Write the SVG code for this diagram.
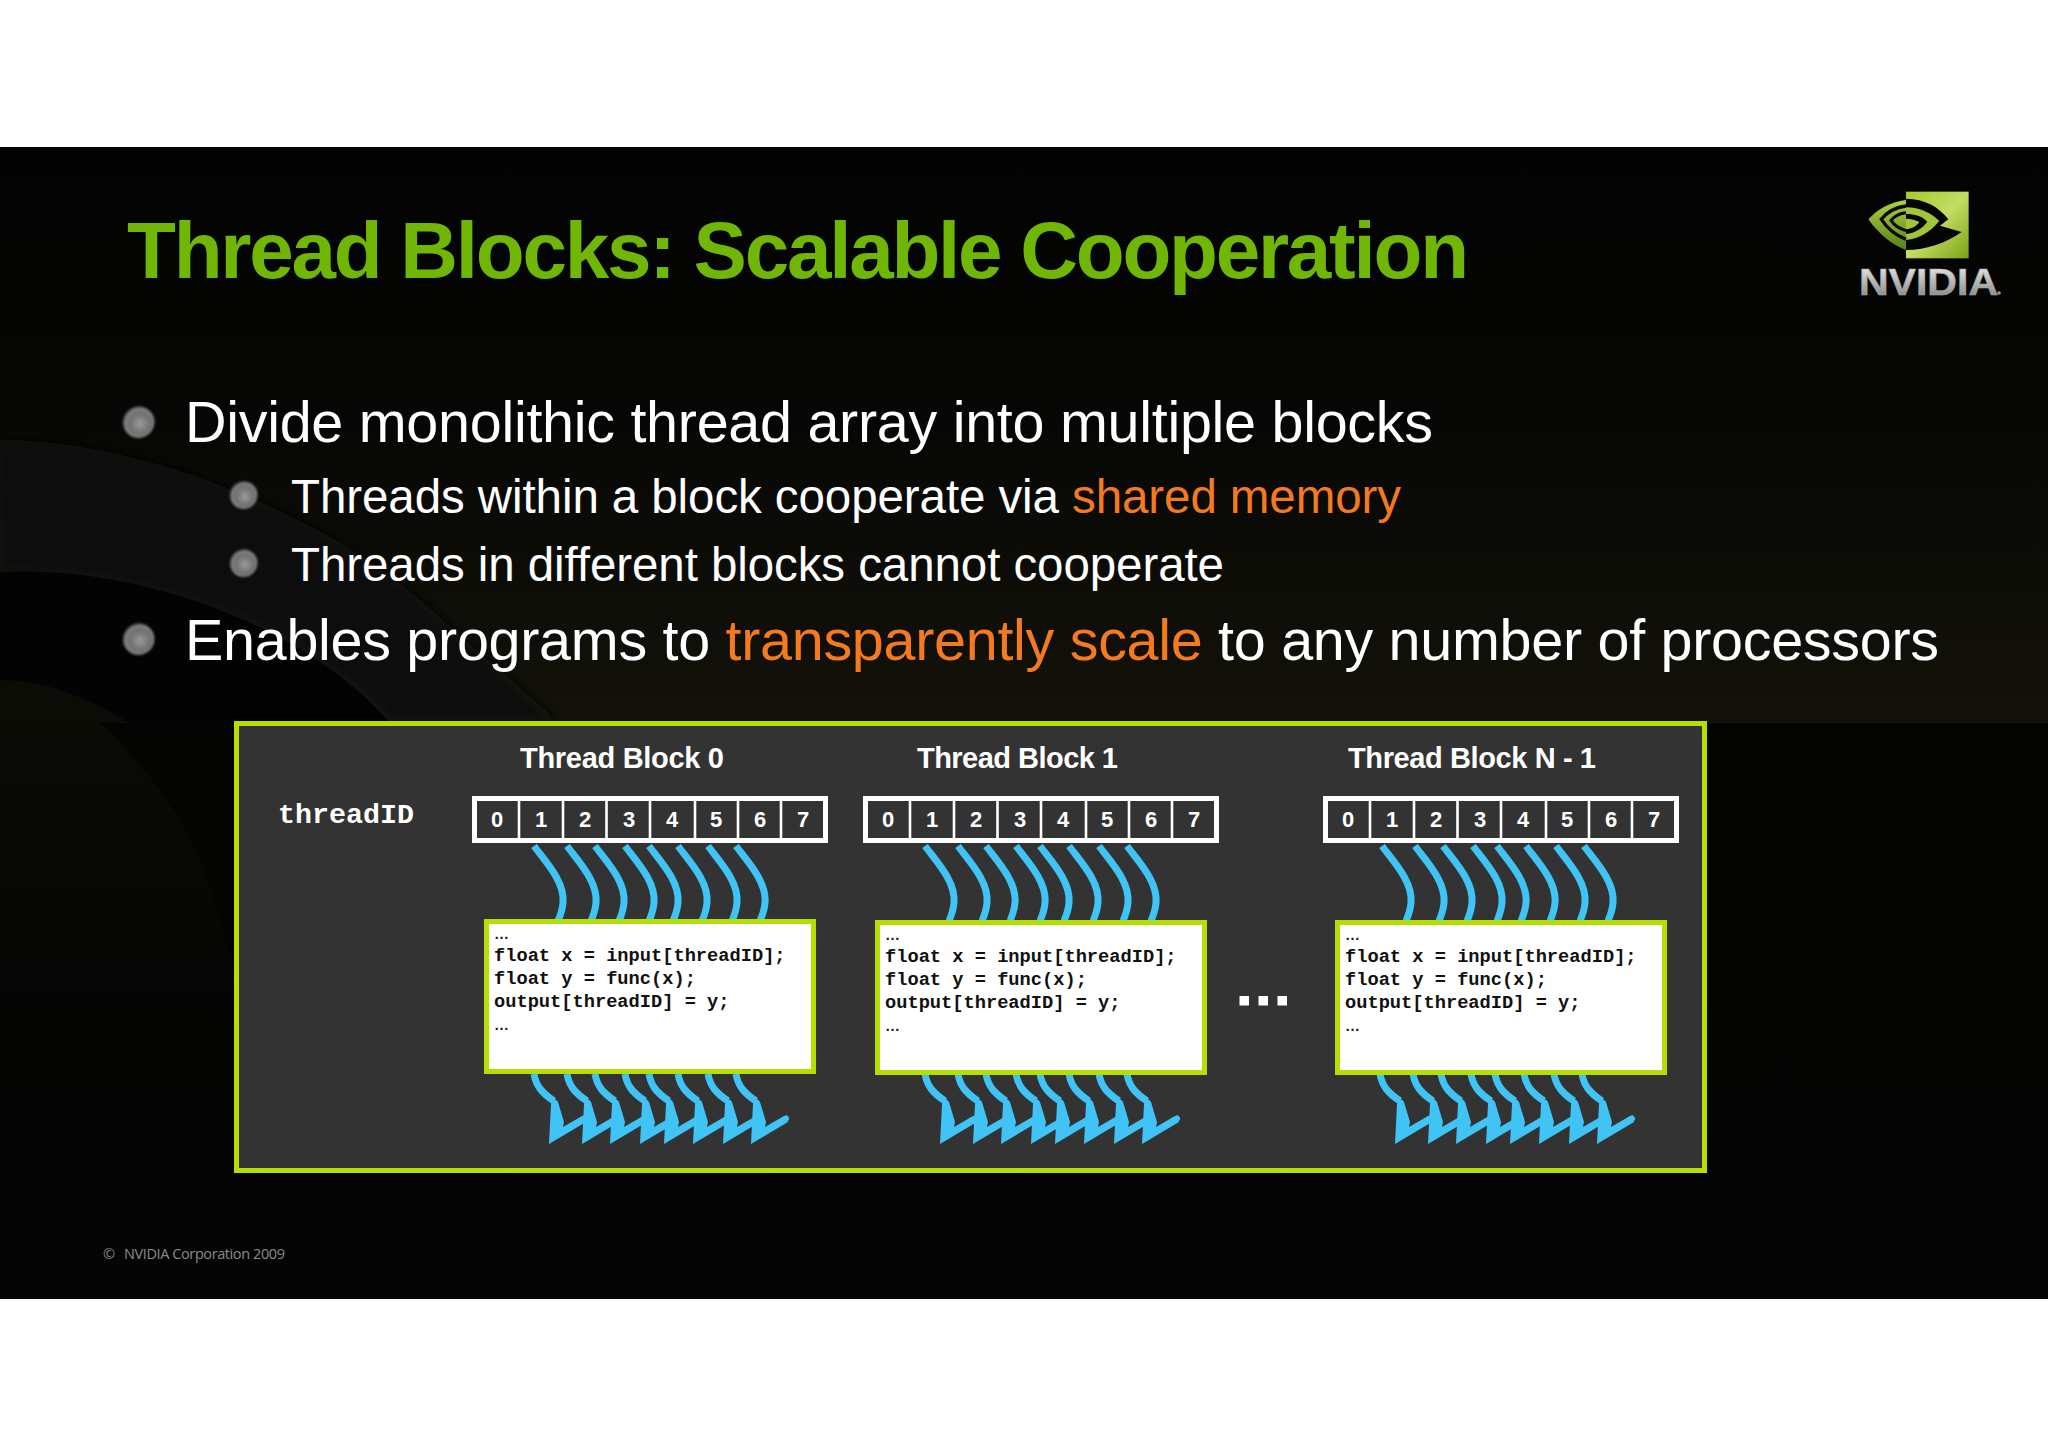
<svg xmlns="http://www.w3.org/2000/svg" xmlns:xlink="http://www.w3.org/1999/xlink" width="2048" height="1447" viewBox="0 0 2048 1447">
<style>
.t{font-family:"Liberation Sans",Arial,sans-serif;fill:#fff}
.h1{font-size:80px;font-weight:700;fill:#70b604}
.l1{font-size:57.5px}
.l2{font-size:47.5px}
.or{fill:#f47a20}
.hd{font-size:29px;font-weight:700}
.dg{font-size:22px;font-weight:700;text-anchor:middle}
.m{font-family:"Liberation Mono","Courier New",monospace;font-weight:700;fill:#111;font-size:18.7px}
.el{font-family:"Liberation Sans",Arial,sans-serif;font-weight:700;fill:#222;font-size:15px}
.wire{fill:none;stroke:#40c4f5;stroke-width:7;stroke-linecap:butt}
.barb{fill:none;stroke:#40c4f5;stroke-width:6;stroke-linecap:round}
.head{fill:#40c4f5}
.sep{stroke:#fff;stroke-width:2.6}
</style>
<defs>
<linearGradient id="bgTop" x1="0" y1="0" x2="0" y2="1">
<stop offset="0" stop-color="#030303"/><stop offset="0.45" stop-color="#060604"/><stop offset="1" stop-color="#13120a"/>
</linearGradient>
<linearGradient id="bgLow" x1="0" y1="0" x2="0" y2="1">
<stop offset="0" stop-color="#040502"/><stop offset="1" stop-color="#050505"/>
</linearGradient>
<linearGradient id="olLow" x1="0" y1="0" x2="0" y2="1">
<stop offset="0" stop-color="#0a0b05"/><stop offset="1" stop-color="#050505"/>
</linearGradient>
<radialGradient id="ball" cx="0.55" cy="0.55" r="0.55">
<stop offset="0" stop-color="#9a9a9a"/><stop offset="0.6" stop-color="#707070"/><stop offset="0.85" stop-color="#808080"/><stop offset="1" stop-color="#2a2a2a"/>
</radialGradient>
<linearGradient id="lg" x1="0" y1="0" x2="1" y2="1">
<stop offset="0" stop-color="#a4cc28"/><stop offset="0.5" stop-color="#c3dc64"/><stop offset="1" stop-color="#7aa312"/>
</linearGradient>
<linearGradient id="lg2" x1="0" y1="0" x2="0" y2="1">
<stop offset="0" stop-color="#b0d040"/><stop offset="1" stop-color="#54801a"/>
</linearGradient>
<linearGradient id="silver" x1="0" y1="0" x2="0" y2="1">
<stop offset="0" stop-color="#f2f2f2"/><stop offset="1" stop-color="#777"/>
</linearGradient>
<filter id="soft" x="-20%" y="-20%" width="140%" height="140%"><feGaussianBlur stdDeviation="6"/></filter>
<filter id="sb" x="-20%" y="-20%" width="140%" height="140%"><feGaussianBlur stdDeviation="0.8"/></filter>
<g id="wt"><path class="wire" d="M0,846 C12,862 31,882 29,903 C28.500,908 27,914 24,921"/></g>
<g id="ar">
<path class="wire" d="M0,1074 C2,1086 8,1093 20,1101"/>
<path class="barb" d="M46,1121 L50,1118.500"/>
<path class="head" d="M15,1144 L17,1104 Q21,1096 24,1102 L30,1122 L29,1127 L48,1116 L52,1122 Z"/>
</g>
<g id="wiresT">
<use xlink:href="#wt" href="#wt" x="534"/><use xlink:href="#wt" href="#wt" x="567"/><use xlink:href="#wt" href="#wt" x="595"/><use xlink:href="#wt" href="#wt" x="625"/><use xlink:href="#wt" href="#wt" x="649"/><use xlink:href="#wt" href="#wt" x="678"/><use xlink:href="#wt" href="#wt" x="708"/><use xlink:href="#wt" href="#wt" x="736"/>
</g>
<g id="wiresB">
<use xlink:href="#ar" href="#ar" x="534"/><use xlink:href="#ar" href="#ar" x="567"/><use xlink:href="#ar" href="#ar" x="595"/><use xlink:href="#ar" href="#ar" x="625"/><use xlink:href="#ar" href="#ar" x="649"/><use xlink:href="#ar" href="#ar" x="678"/><use xlink:href="#ar" href="#ar" x="708"/><use xlink:href="#ar" href="#ar" x="736"/>
</g>
<g id="arr">
<rect x="474.5" y="798.5" width="351" height="42" fill="#333" stroke="#fff" stroke-width="5"/>
<path class="sep" d="M519,800V840M563,800V840M606.5,800V840M650,800V840M695,800V840M738,800V840M781,800V840"/>
<g class="t dg"><text x="497" y="827">0</text><text x="541" y="827">1</text><text x="585" y="827">2</text><text x="629" y="827">3</text><text x="672" y="827">4</text><text x="716" y="827">5</text><text x="760" y="827">6</text><text x="803" y="827">7</text></g>
</g>
<g id="code">
<rect x="486.5" y="921.5" width="327" height="150" fill="#fff" stroke="#b4df00" stroke-width="5"/>
<text class="el" x="494" y="939">…</text>
<text class="m" x="494" y="961">float x = input[threadID];</text>
<text class="m" x="494" y="984">float y = func(x);</text>
<text class="m" x="494" y="1007">output[threadID] = y;</text>
<text class="el" x="494" y="1030">…</text>
</g>
</defs>

<rect width="2048" height="1447" fill="#fff"/>
<g id="background">
<rect x="0" y="147" width="2048" height="577" fill="url(#bgTop)"/>
<rect x="0" y="723" width="2048" height="576" fill="url(#bgLow)"/>
<path d="M0,440 C150,440 330,520 420,600 L560,723 L390,723 C300,620 130,565 0,572 Z" fill="#0e0f07" filter="url(#soft)"/>
<path d="M0,572 C130,565 300,620 390,723 L0,723 Z" fill="#030304"/>
<path d="M0,680 C50,680 90,700 130,723 L0,723 Z" fill="#0b0c05"/>
<path d="M0,723 L100,723 C140,760 170,800 190,840 C210,880 225,930 234,980 L234,1000 L0,1000 Z" fill="url(#olLow)"/>
</g>

<g id="title"><text class="t h1" x="127" y="278" textLength="1342">Thread Blocks: Scalable Cooperation</text></g>

<g id="logo">
<g transform="translate(1780,170) scale(0.3333)">
<rect x="378" y="65" width="188" height="200" fill="url(#lg)"/>
<path d="M378,86 C435,86 478,112 505,148 L480,167 L545,186 C500,218 440,240 378,240 Z" fill="#050505"/>
<path d="M378,112 C420,112 455,130 478,153 C450,186 420,206 378,210 L378,192 C410,188 430,172 442,155 C425,138 405,132 378,132 Z" fill="#a0c43a"/>
<path d="M378,146 C395,146 408,150 418,156 C408,170 395,176 378,178 Z" fill="#a0c43a"/>
<path d="M378,90 C330,95 290,120 265,148 C295,190 335,225 378,240 Z" fill="url(#lg2)"/>
<path d="M378,108 C345,112 320,128 304,148 C320,172 345,195 378,208" fill="none" stroke="#0a0a0a" stroke-width="10"/>
<path d="M378,128 C357,130 342,140 333,151 C342,165 358,176 378,182" fill="none" stroke="#0a0a0a" stroke-width="9"/>
</g>
<text x="1859" y="295" textLength="139" lengthAdjust="spacingAndGlyphs" font-family="'Liberation Sans',Arial,sans-serif" font-weight="700" font-size="36" fill="url(#silver)" stroke="#aaa" stroke-width="0.6">NVIDIA</text>
<circle cx="1999" cy="293" r="1.8" fill="#999"/>
</g>

<g id="bullets">
<circle cx="138.500" cy="422" r="16" fill="url(#ball)" filter="url(#sb)"/>
<circle cx="243.500" cy="495" r="14" fill="url(#ball)" filter="url(#sb)"/>
<circle cx="243.500" cy="563" r="14" fill="url(#ball)" filter="url(#sb)"/>
<circle cx="138.500" cy="639" r="16" fill="url(#ball)" filter="url(#sb)"/>
<text class="t l1" x="185" y="442" textLength="1248">Divide monolithic thread array into multiple blocks</text>
<text class="t l2" x="291" y="512.500" textLength="1110">Threads within a block cooperate via <tspan class="or">shared memory</tspan></text>
<text class="t l2" x="291" y="580.500" textLength="933">Threads in different blocks cannot cooperate</text>
<text class="t l1" x="185" y="660" textLength="1754">Enables programs to <tspan class="or">transparently scale</tspan> to any number of processors</text>
</g>

<g id="panel">
<rect x="236.500" y="723.500" width="1468" height="447" fill="#333334" stroke="#b4df00" stroke-width="5"/>
<text class="m" x="278" y="823" style="fill:#fff;font-size:28.3px" textLength="136">threadID</text>
<text class="t hd" x="520" y="768" textLength="204">Thread Block 0</text>
<text class="t hd" x="917" y="768" textLength="201">Thread Block 1</text>
<text class="t hd" x="1348" y="768" textLength="248">Thread Block N - 1</text>
<g id="gap-dots" fill="#fff"><rect x="1239.500" y="996" width="9.500" height="9.500"/><rect x="1258.500" y="996" width="9.500" height="9.500"/><rect x="1277.500" y="996" width="9.500" height="9.500"/></g>
</g>

<g id="connectors">
<use xlink:href="#wiresT" href="#wiresT"/>
<use xlink:href="#wiresT" href="#wiresT" x="391"/>
<use xlink:href="#wiresT" href="#wiresT" x="848"/>
<use xlink:href="#wiresB" href="#wiresB"/>
<use xlink:href="#wiresB" href="#wiresB" x="391"/>
<use xlink:href="#wiresB" href="#wiresB" x="846"/>
</g>

<g id="thread-block-0">
<use xlink:href="#arr" href="#arr"/>
<use xlink:href="#code" href="#code"/>
</g>
<g id="thread-block-1">
<use xlink:href="#arr" href="#arr" x="391"/>
<use xlink:href="#code" href="#code" x="391" y="1"/>
</g>
<g id="thread-block-n-1">
<use xlink:href="#arr" href="#arr" x="851"/>
<use xlink:href="#code" href="#code" x="851" y="1"/>
</g>

<g id="footer" font-family="'Open Sans',sans-serif" font-size="14.500" fill="#8a8a8a"><text x="103" y="1259">©</text><text x="124" y="1259" textLength="161">NVIDIA Corporation 2009</text></g>
</svg>
